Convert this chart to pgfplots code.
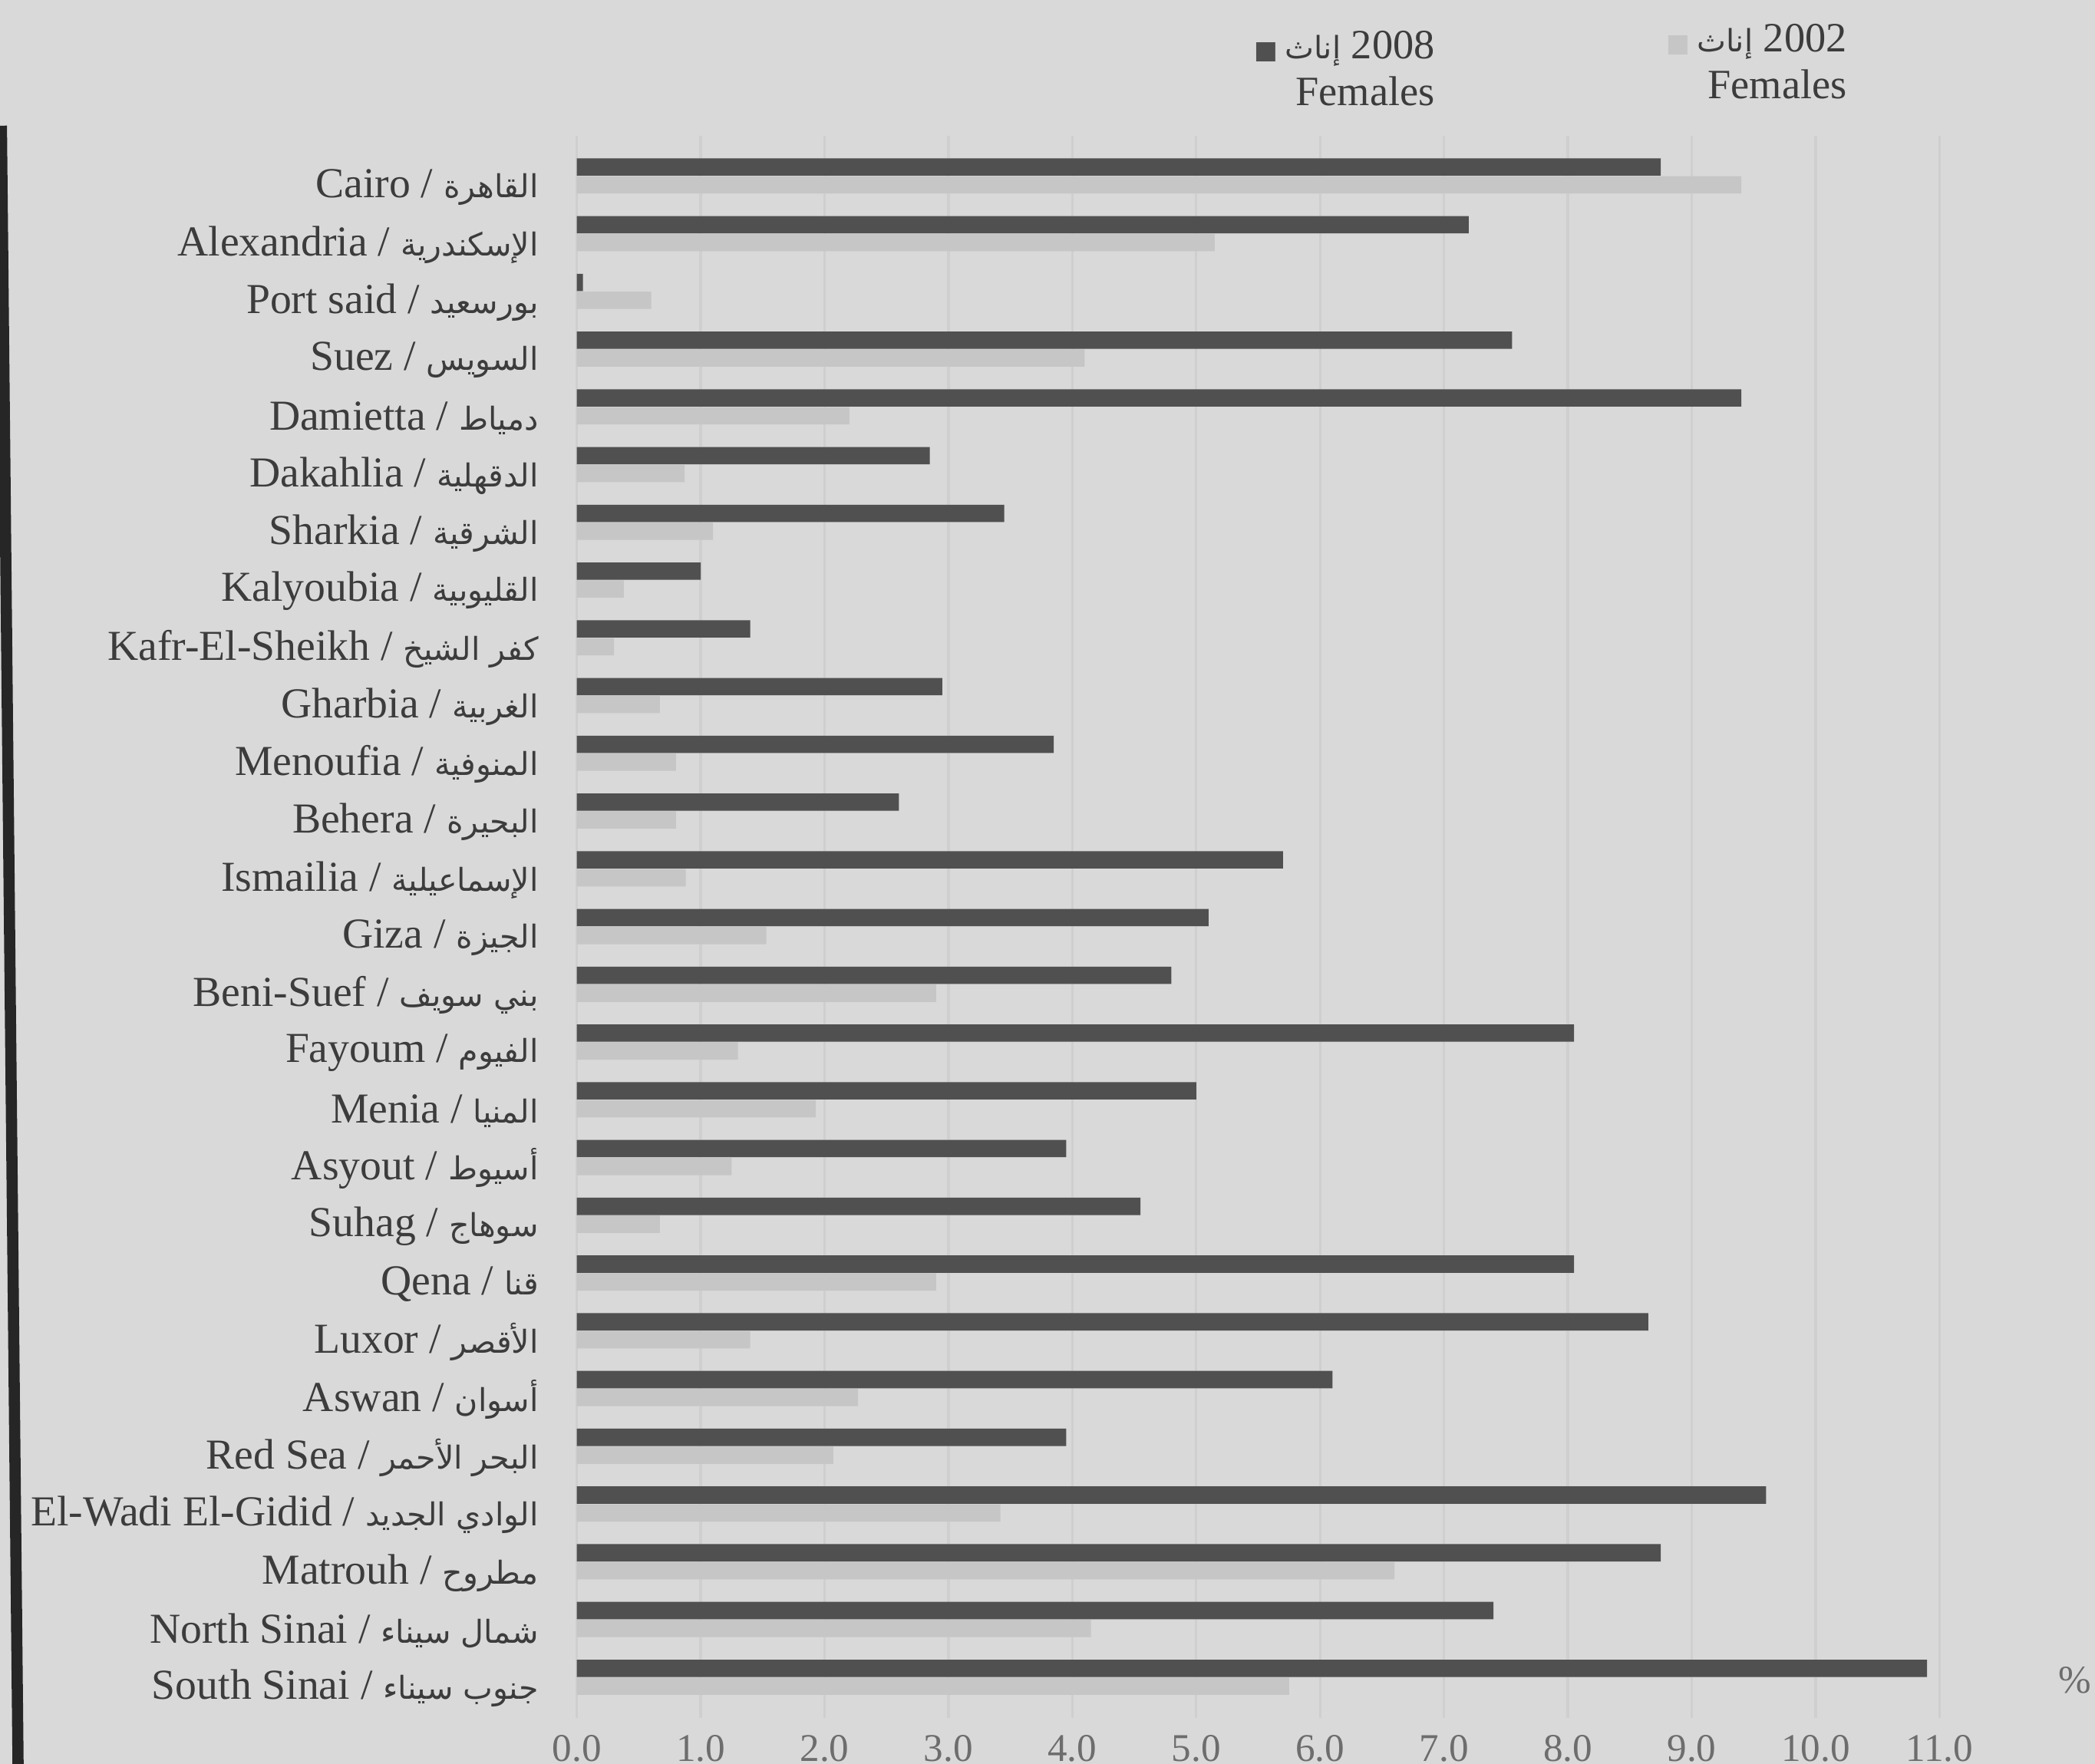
\documentclass[border=0pt]{standalone}
\usepackage{fontspec}
\setmainfont{Liberation Serif}
\newfontfamily\ar[Script=Arabic,Scale=0.74]{DejaVu Sans}
\newfontfamily\sym{DejaVu Sans}
\usepackage{pgfplots}
\usepackage{pgfplotstable}
\pgfplotsset{compat=1.18}
\TeXXeTstate=1

\definecolor{bgc}{HTML}{D9D9D9}
\definecolor{darkbar}{HTML}{505050}
\definecolor{lightbar}{HTML}{C6C6C6}
\definecolor{txt}{HTML}{3C3C3C}
\definecolor{gridc}{HTML}{CFCFCF}

% y = 26 is Cairo (top), y = 0 is South Sinai (bottom)
\pgfplotstableread{
y  f08   f02
26 8.75  9.40
25 7.20  5.15
24 0.05  0.60
23 7.55  4.10
22 9.40  2.20
21 2.85  0.87
20 3.45  1.10
19 1.00  0.38
18 1.40  0.30
17 2.95  0.67
16 3.85  0.80
15 2.60  0.80
14 5.70  0.88
13 5.10  1.53
12 4.80  2.90
11 8.05  1.30
10 5.00  1.93
9  3.95  1.25
8  4.55  0.67
7  8.05  2.90
6  8.65  1.40
5  6.10  2.27
4  3.95  2.07
3  9.60  3.42
2  8.75  6.60
1  7.40  4.15
0  10.90 5.75
}\females

\begin{document}
\begin{tikzpicture}
\useasboundingbox (-4.13,-0.33) rectangle (10.87,12.30);
\fill[bgc] (-4.13,-0.33) rectangle (10.87,12.30);
\clip (-4.13,-0.33) rectangle (10.87,12.30);
% dark page edge on the left of the photo
\draw[line width=0.08cm, black!85] (-4.12,11.4) -- (-4.00,-0.4);

\begin{axis}[
  xbar,
  scale only axis,
  width=10.2cm, height=11.33cm,
  xmin=0, xmax=11.5,
  ymin=-0.7, ymax=26.7,
  bar width=0.124cm,
  axis line style={draw=none},
  major tick length=0pt,
  xtick={0,...,11},
  xmajorgrids,
  grid style={gridc, line width=0.5pt},
  xticklabel style={font=\fontsize{8}{9}\selectfont, text=txt!75,
    /pgf/number format/.cd, fixed, fixed zerofill, precision=1, assume math mode=true},
  ytick={0,...,26},
  yticklabels={
    {South Sinai / {\ar\beginR جنوب سيناء\endR}},
    {North Sinai / {\ar\beginR شمال سيناء\endR}},
    {Matrouh / {\ar\beginR مطروح\endR}},
    {El-Wadi El-Gidid / {\ar\beginR الوادي الجديد\endR}},
    {Red Sea / {\ar\beginR البحر الأحمر\endR}},
    {Aswan / {\ar\beginR أسوان\endR}},
    {Luxor / {\ar\beginR الأقصر\endR}},
    {Qena / {\ar\beginR قنا\endR}},
    {Suhag / {\ar\beginR سوهاج\endR}},
    {Asyout / {\ar\beginR أسيوط\endR}},
    {Menia / {\ar\beginR المنيا\endR}},
    {Fayoum / {\ar\beginR الفيوم\endR}},
    {Beni-Suef / {\ar\beginR بني سويف\endR}},
    {Giza / {\ar\beginR الجيزة\endR}},
    {Ismailia / {\ar\beginR الإسماعيلية\endR}},
    {Behera / {\ar\beginR البحيرة\endR}},
    {Menoufia / {\ar\beginR المنوفية\endR}},
    {Gharbia / {\ar\beginR الغربية\endR}},
    {Kafr-El-Sheikh / {\ar\beginR كفر الشيخ\endR}},
    {Kalyoubia / {\ar\beginR القليوبية\endR}},
    {Sharkia / {\ar\beginR الشرقية\endR}},
    {Dakahlia / {\ar\beginR الدقهلية\endR}},
    {Damietta / {\ar\beginR دمياط\endR}},
    {Suez / {\ar\beginR السويس\endR}},
    {Port said / {\ar\beginR بورسعيد\endR}},
    {Alexandria / {\ar\beginR الإسكندرية\endR}},
    {Cairo / {\ar\beginR القاهرة\endR}}
  },
  yticklabel style={font=\fontsize{8.7}{10}\selectfont, text=txt, xshift=-0.15cm, yshift=-0.08cm},
]
\addplot[fill=darkbar, draw=none, bar shift=0.064cm] table[x=f08, y=y] {\females};
\addplot[fill=lightbar, draw=none, bar shift=-0.064cm] table[x=f02, y=y] {\females};
\end{axis}

\node[anchor=east, align=right, inner sep=0pt, text=txt, font=\fontsize{8.5}{9.5}\selectfont]
  at (6.15,11.81) {{\sym\color{darkbar}\scalebox{0.6}{■}}\,{\ar\beginR إناث\endR} 2008\\Females};
\node[anchor=east, align=right, inner sep=0pt, text=txt, font=\fontsize{8.5}{9.5}\selectfont]
  at (9.10,11.86) {{\sym\color{lightbar}\scalebox{0.6}{■}}\,{\ar\beginR إناث\endR} 2002\\Females};
\node[anchor=east, inner sep=0pt, text=txt!75, font=\fontsize{8}{9}\selectfont] at (10.85,0.27) {\%};
\end{tikzpicture}
\end{document}
